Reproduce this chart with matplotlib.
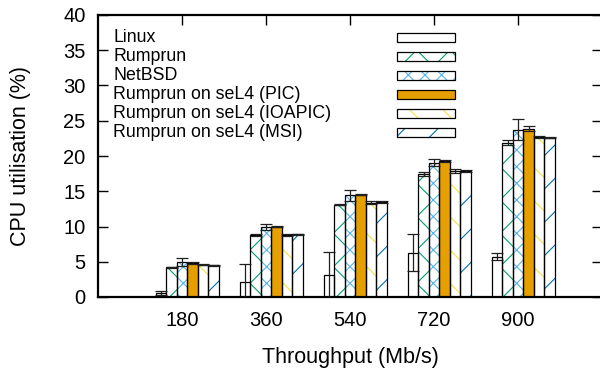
""" CPU utilisation histogram"""

# imports
import numpy as np
import matplotlib
matplotlib.use('Agg')
import matplotlib.pyplot as plt
from matplotlib.patches import Rectangle

# data
throughput = ['180', '360', '540', '720', '900']
series = ['Linux', 'Rumprun', 'NetBSD', 'Rumprun on seL4 (PIC)',
          'Rumprun on seL4 (IOAPIC)', 'Rumprun on seL4 (MSI)']
linux = [0.6, 2.1, 3.1, 6.3, 5.7]
rumprun = [4.2, 8.8, 13.1, 17.45, 21.9]
netbsd = [5.0, 9.9, 14.4, 19.05, 23.7]
pic = [4.8, 10.0, 14.5, 19.3, 23.9]
ioapic = [4.6, 8.8, 13.4, 17.9, 22.7]
msi = [4.5, 8.9, 13.5, 17.9, 22.6]
linux_err = [0.3, 2.6, 3.3, 2.6, 0.5]
rumprun_err = [0.1, 0.2, 0.1, 0.3, 0.3]
netbsd_err = [0.6, 0.4, 0.8, 0.5, 1.5]
pic_err = [0.1, 0.1, 0.1, 0.2, 0.3]
ioapic_err = [0.1, 0.2, 0.2, 0.3, 0.2]
msi_err = [0.1, 0.1, 0.1, 0.1, 0.1]

# styles
faces = ['white', 'white', 'white', '#e69f00', 'white', 'white']
hatch_cols = ['white', '#009e73', '#56b4e9', '#e69f00', '#f0e442', '#0072b2']
hatches = [None, 'x', 'xx', None, '\\', '/']

plt.rcParams['font.family'] = ['Liberation Sans', 'DejaVu Sans']
plt.rcParams['hatch.linewidth'] = 0.8
fs_tick = 14.5
fs_lab = 15.5
fs_leg = 12.8

# figure settings
fig = plt.figure(figsize=(6, 3.71), dpi=100)
ax = fig.add_axes([98 / 600, 74 / 371, 504 / 600, 282 / 371])

vals = [linux, rumprun, netbsd, pic, ioapic, msi]
errs = [linux_err, rumprun_err, netbsd_err, pic_err, ioapic_err, msi_err]
w = 1 / 8
idx = np.arange(len(throughput))

# bars
for j in range(len(series)):
    x = idx + (j - 2) * w
    ax.bar(x, vals[j], w, color=faces[j], edgecolor=hatch_cols[j], hatch=hatches[j],
           linewidth=0, zorder=2)
    ax.bar(x, vals[j], w, fill=False, edgecolor='black', linewidth=0.9, zorder=3)
    ax.errorbar(x, vals[j], yerr=errs[j], fmt='none', ecolor='#202020', elinewidth=0.9,
                capsize=4.5, capthick=0.9, zorder=4)

# legend drawn by hand (text left, sample right)
for j in range(len(series)):
    yc = 0.921 - j * 0.0674
    ax.text(0.03, yc, series[j], transform=ax.transAxes, ha='left', va='center',
            fontsize=fs_leg)
    ax.add_patch(Rectangle((0.593, yc - 0.0165), 0.115, 0.033, transform=ax.transAxes,
                           facecolor=faces[j], edgecolor=hatch_cols[j], hatch=hatches[j],
                           linewidth=0, zorder=5))
    ax.add_patch(Rectangle((0.593, yc - 0.0165), 0.115, 0.033, transform=ax.transAxes,
                           fill=False, edgecolor='black', linewidth=0.9, zorder=6))

# axes
ax.set_xlim(-1, 5)
ax.set_ylim(0, 40)
ax.set_xticks(idx)
ax.set_xticklabels(throughput, fontsize=fs_tick)
ax.set_yticks(np.arange(0, 41, 5))
ax.tick_params(axis='y', direction='in', length=7, width=1, left=True, right=True,
               labelsize=fs_tick, pad=9)
ax.tick_params(axis='x', direction='in', length=7, width=1, top=True, bottom=False,
               labelsize=fs_tick, pad=10)
for s in ax.spines.values():
    s.set_linewidth(1.6)
ax.set_xlabel('Throughput (Mb/s)', fontsize=fs_lab, labelpad=12)
ax.set_ylabel('CPU utilisation (%)', fontsize=fs_lab, labelpad=23)

fig.savefig('out.png', dpi=100)
